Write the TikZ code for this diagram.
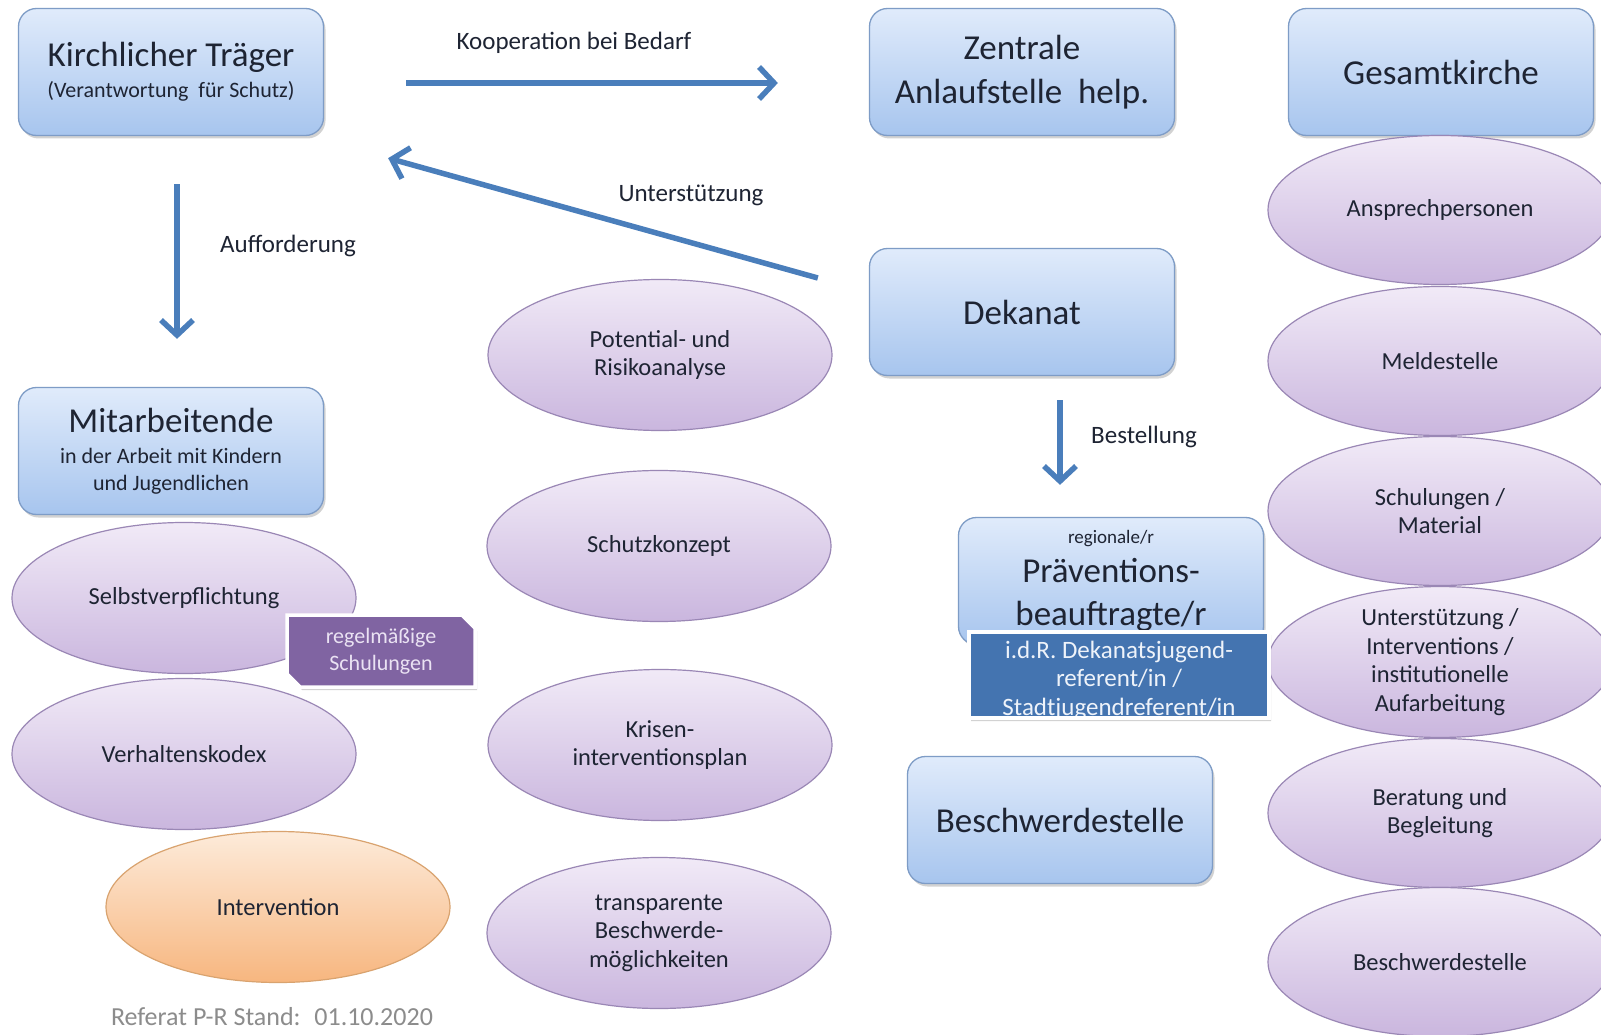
\documentclass[tikz,border=0pt]{standalone}
\usepackage{fontspec}
\setmainfont{Carlito}
\usetikzlibrary{shapes.geometric,shapes.misc,arrows.meta,shadows}
\definecolor{boxtop}{HTML}{E0EBFB}
\definecolor{boxbot}{HTML}{A7C5EE}
\definecolor{boxborder}{HTML}{7E9CC6}
\definecolor{elltop}{HTML}{F1EAF7}
\definecolor{ellbot}{HTML}{CAB6DE}
\definecolor{ellborder}{HTML}{9A87B5}
\definecolor{ortop}{HTML}{FDEBDA}
\definecolor{orbot}{HTML}{F7B67F}
\definecolor{orborder}{HTML}{D9A36F}
\definecolor{arrowblue}{HTML}{4A7EBB}
\definecolor{textdark}{HTML}{1E2433}
\definecolor{tagpurple}{HTML}{8064A2}
\definecolor{tagpurpletext}{HTML}{EAE2F3}
\definecolor{tagblue}{HTML}{4474B0}
\definecolor{tagbluetext}{HTML}{EEF3FA}
\definecolor{footgray}{HTML}{8C8C8C}
\begin{document}
\begin{tikzpicture}[x=1pt,y=-1pt,
  shadowed/.style={drop shadow={opacity=0.35,shadow xshift=2pt,shadow yshift=-3pt}},
  box/.style={rounded corners=18pt, draw=boxborder, line width=1.3pt,
    top color=boxtop, bottom color=boxbot, minimum width=305pt, minimum height=127pt,
    align=center, text=textdark, inner sep=0pt, shadowed},
  ell/.style={ellipse, draw=ellborder, line width=1.2pt, top color=elltop, bottom color=ellbot,
    minimum width=344pt, minimum height=151pt, inner sep=0pt, align=center, text=textdark,
    font=\fontsize{24.5}{28.5}\selectfont},
  rell/.style={ell, minimum width=344pt, minimum height=149pt},
  orell/.style={ell, draw=orborder, top color=ortop, bottom color=orbot},
  flow/.style={line width=5.5pt, draw=arrowblue, -{Straight Barb[length=15pt,width=32pt]}},
  lbl/.style={font=\fontsize{25}{28}\selectfont, text=textdark, inner sep=0pt},
  bigf/.style={font=\fontsize{35}{44}\selectfont},
  tagshape/.style={chamfered rectangle, chamfered rectangle corners={north east,south west},
    chamfered rectangle xsep=10pt, draw=white, line width=3.5pt, inner sep=0pt, shadowed}
]
\useasboundingbox (0,0) rectangle (1601,1035);
\fill[white] (0,0) rectangle (1601,1035);

% top row boxes
\node[box,font=\fontsize{35}{40}\selectfont] (kt) at (171,72) {Kirchlicher Träger\\[-9pt]{\fontsize{22}{26}\selectfont (Verantwortung~ für Schutz)}};
\node[box,bigf] (zen) at (1022,72) {Zentrale\\Anlaufstelle~ help.};
\node[box,bigf] (ges) at (1441,72) {Gesamtkirche};
\node[box,bigf] (dek) at (1022,312) {Dekanat};
\node[box,font=\fontsize{22}{27}\selectfont] (mit) at (171,451) {{\fontsize{35}{38}\selectfont Mitarbeitende}\\[4pt]in der Arbeit mit Kindern\\und Jugendlichen};
\node[box,bigf] (besch) at (1060,820) {Beschwerdestelle};

% left column ellipses
\node[ell] (selbst) at (184,598) {Selbstverpflichtung};
\node[ell] (verh) at (184,754) {Verhaltenskodex};
\node[orell] (interv) at (278,907) {Intervention};

% purple tag
\node[tagshape, fill=tagpurple, minimum width=188pt, minimum height=72pt,
  text=tagpurpletext, align=center, font=\fontsize{22}{27}\selectfont] (tagp) at (381,651) {regelmäßige\\Schulungen};

% middle column ellipses
\node[ell] (pot) at (660,355) {Potential- und\\Risikoanalyse};
\node[ell] (schutz) at (659,546) {Schutzkonzept};
\node[ell] (krise) at (660,745) {Krisen-\\interventionsplan};
\node[ell] (transp) at (659,933) {transparente\\Beschwerde-\\möglichkeiten};

% right column ellipses
\node[rell] (ansp) at (1440,210) {Ansprechpersonen};
\node[rell] (meld) at (1440,361) {Meldestelle};
\node[rell] (schul) at (1440,511) {Schulungen /\\Material};
\node[rell] (unter) at (1440,662) {Unterstützung /\\Interventions /\\institutionelle\\Aufarbeitung};
\node[rell] (berat) at (1440,813) {Beratung und\\Begleitung};
\node[rell] (rbesch) at (1440,962) {Beschwerdestelle};

% Präventionsbeauftragte
\node[box,font=\fontsize{35}{43}\selectfont] (prae) at (1111,581) {{\fontsize{19}{22}\selectfont regionale/r}\\[-4pt]Präventions-\\beauftragte/r};

% blue tag with clipped text
\node[tagshape, fill=tagblue, minimum width=300pt, minimum height=86pt,
  path picture={\node[text=tagbluetext, align=center, inner sep=0pt,
     font=\fontsize{25}{28.5}\selectfont] (tagbtext) at ([yshift=-5pt]path picture bounding box.center)
     {i.d.R. Dekanatsjugend-\\referent/in /\\Stadtjugendreferent/in};}] (tagb) at (1119,675) {};

% arrows
\draw[flow] ([xshift=82pt,yshift=-11pt]kt.east) -- ([xshift=-91pt,yshift=-11pt]zen.west);
\draw[flow] ([xshift=-51pt,yshift=34pt]dek.west) -- ([xshift=64pt,yshift=-22pt]kt.south east);
\draw[flow] ([xshift=6pt,yshift=-48pt]kt.south) -- ([xshift=6pt,yshift=48pt]mit.north);
\draw[flow] ([xshift=38pt,yshift=-24pt]dek.south) -- ([xshift=-51pt,yshift=32pt]prae.north);

% labels
\node[lbl] (lkoop) at (574,43) {Kooperation bei Bedarf};
\node[lbl] (lunter) at (691,195) {Unterstützung};
\node[lbl] (lauff) at (288,246) {Aufforderung};
\node[lbl] (lbest) at (1144,437) {Bestellung};

% footer
\node[font=\fontsize{26}{28}\selectfont, text=footgray, inner sep=0pt] (foot) at (272,1017) {Referat P-R Stand:~ 01.10.2020};
\end{tikzpicture}
\end{document}
